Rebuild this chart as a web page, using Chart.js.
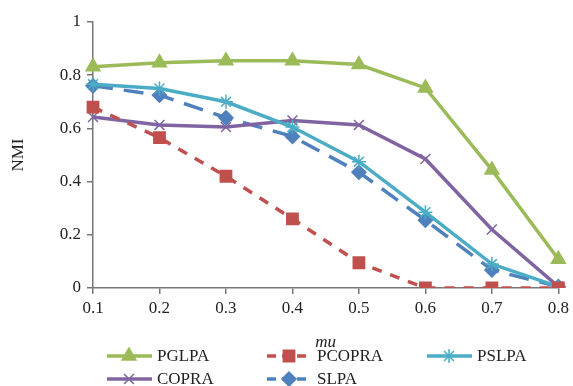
<!DOCTYPE html>
<html>
<head>
<meta charset="utf-8">
<script src="https://cdn.jsdelivr.net/npm/chart.js@4/dist/chart.umd.min.js"></script>
<style>
  html, body { margin: 0; padding: 0; background: #fff; }
  #wrap { width: 573px; height: 386px; }
</style>
</head>
<body>
<div id="wrap"><canvas id="nmiChart" width="573" height="386"></canvas></div>
<script>
const muLabels = ['0.1', '0.2', '0.3', '0.4', '0.5', '0.6', '0.7', '0.8'];
const pglpa  = [0.832, 0.847, 0.854, 0.854, 0.840, 0.752, 0.444, 0.108];
const pcopra = [0.680, 0.565, 0.420, 0.260, 0.095, 0.000, 0.000, 0.000];
const pslpa  = [0.766, 0.750, 0.700, 0.605, 0.475, 0.285, 0.090, 0.005];
const copra  = [0.643, 0.613, 0.605, 0.630, 0.613, 0.485, 0.220, 0.005];
const slpa   = [0.760, 0.725, 0.640, 0.570, 0.435, 0.255, 0.068, 0.005];

const FONT = "'Liberation Serif', serif";

document.addEventListener('DOMContentLoaded', function() {
    const ctx = document.getElementById('nmiChart').getContext('2d');

    function series(label, data, color, style, radius, dash) {
        return {
            label: label,
            data: data,
            borderColor: color,
            backgroundColor: color,
            pointBackgroundColor: color,
            pointBorderColor: color,
            pointStyle: style,
            pointRadius: radius,
            pointBorderWidth: 1.5,
            borderWidth: 3.5,
            borderDash: dash || [],
            tension: 0,
            fill: false
        };
    }

    // legend with line + marker samples, drawn under the x axis
    const lineLegend = {
        id: 'lineLegend',
        afterDraw(chart) {
            const c = chart.ctx;
            const cols = [107, 267, 427];
            const rows = [356, 379];
            chart.data.datasets.forEach((ds, i) => {
                const x = cols[i % 3], y = rows[Math.floor(i / 3)];
                c.save();
                c.strokeStyle = ds.borderColor;
                c.fillStyle = ds.borderColor;
                c.lineWidth = ds.borderWidth;
                c.setLineDash(ds.borderDash.length ? [9, 6] : []);
                c.beginPath();
                c.moveTo(x, y);
                c.lineTo(x + 45, y);
                c.stroke();
                c.setLineDash([]);
                c.lineWidth = ds.pointBorderWidth;
                Chart.helpers.drawPoint(c, {
                    pointStyle: ds.pointStyle,
                    radius: ds.pointRadius,
                    borderWidth: ds.pointBorderWidth
                }, x + 22, y);
                c.fillStyle = '#222';
                c.font = '17px ' + FONT;
                c.textBaseline = 'middle';
                c.fillText(ds.label, x + 50, y + 1);
                c.restore();
            });
        }
    };

    new Chart(ctx, {
        type: 'line',
        data: {
            labels: muLabels,
            datasets: [
                series('PGLPA', pglpa, '#9BBB59', 'triangle', 8),
                series('PCOPRA', pcopra, '#C0504D', 'rect', 8, [10, 9]),
                series('PSLPA', pslpa, '#4BACC6', 'star', 7),
                series('COPRA', copra, '#8064A2', 'crossRot', 7),
                series('SLPA', slpa, '#4F81BD', 'rectRot', 7, [20, 11])
            ]
        },
        options: {
            responsive: false,
            animation: false,
            layout: { padding: { top: 22, right: 10, bottom: 31, left: 0 } },
            plugins: {
                legend: { display: false },
                tooltip: { enabled: false }
            },
            scales: {
                x: {
                    type: 'category',
                    offset: false,
                    grid: { display: true, drawOnChartArea: false, drawTicks: true, tickLength: 6, color: '#777', lineWidth: 1.5 },
                    border: { color: '#777', width: 1.5 },
                    ticks: { color: '#222', font: { family: FONT, size: 17 }, padding: 4, maxRotation: 0 },
                    title: { display: true, text: 'mu', color: '#222', font: { family: FONT, size: 17, style: 'italic' }, padding: { top: 4, bottom: 2 } },
                    afterFit(scale) { scale.height = 67; }
                },
                y: {
                    min: 0,
                    max: 1,
                    ticks: {
                        stepSize: 0.2,
                        color: '#222',
                        font: { family: FONT, size: 17 },
                        padding: 6,
                        callback: (v) => String(Math.round(v * 10) / 10)
                    },
                    grid: { display: true, drawOnChartArea: false, drawTicks: true, tickLength: 6, color: '#777', lineWidth: 1.5 },
                    border: { color: '#777', width: 1.5 },
                    title: { display: true, text: 'NMI', color: '#222', font: { family: FONT, size: 17 }, padding: { top: 8, bottom: 4 } },
                    afterFit(scale) { scale.width = 93; }
                }
            }
        },
        plugins: [lineLegend]
    });
});
</script>
</body>
</html>
